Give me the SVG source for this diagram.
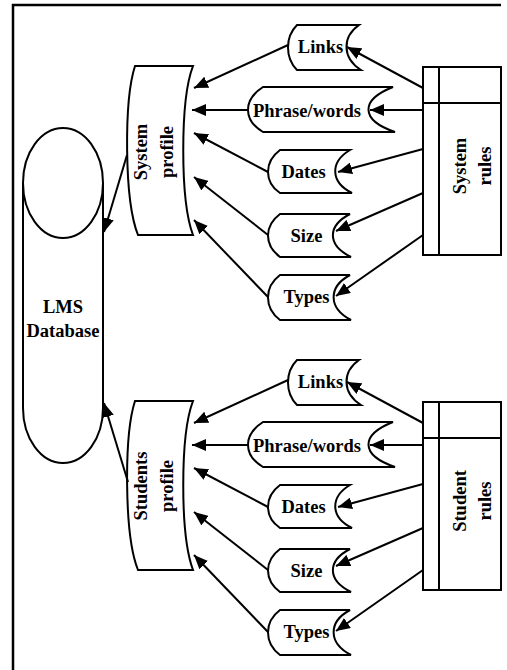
<svg xmlns="http://www.w3.org/2000/svg" width="507" height="670" viewBox="0 0 507 670">
<defs>
<style>
.s{fill:#fff;stroke:#000;stroke-width:2}
.t{font-family:"Liberation Serif","Times New Roman",serif;font-weight:bold;font-size:18.5px;fill:#000;text-anchor:middle}
.c{stroke:#000;stroke-width:2;fill:none;marker-end:url(#ah)}
</style>
<marker id="ah" markerUnits="userSpaceOnUse" markerWidth="15" markerHeight="12" refX="14" refY="6" orient="auto">
<path d="M0,0 L14,6 L0,12 Z" fill="#000"/>
</marker>
</defs>
<rect width="507" height="670" fill="#fff"/>
<path d="M13,670 V5 H501" fill="none" stroke="#000" stroke-width="2.5"/>

<g id="lms-database">
<path class="s" d="M23,183 V408 A40,55 0 0 0 103,408 V183"/>
<ellipse class="s" cx="63" cy="183" rx="40" ry="55"/>
<text class="t"><tspan x="63" y="313">LMS</tspan><tspan x="63" y="337">Database</tspan></text>
</g>

<g id="system-profile">
<path class="s" d="M135,66 H193 C180,100 180,200 193,235 H138 C124,200 124,100 135,66 Z"/>
<text class="t" transform="translate(156,152) rotate(-90)"><tspan x="0" y="-9">System</tspan><tspan x="0" y="17">profile</tspan></text>
</g>

<g id="sys-links">
<path class="s" d="M297,25 H359 C342,37 342,58 361,70 H297 C285,58 285,37 297,25 Z"/>
<text class="t" x="320.5" y="52.5">Links</text>
</g>
<g id="sys-phrase">
<path class="s" d="M263,87 H393 C360,100 360,120 395,132 H263 C243,120 243,100 263,87 Z"/>
<text class="t" x="307" y="116.5">Phrase/words</text>
</g>
<g id="sys-dates">
<path class="s" d="M280,150 H350 C330,162 330,182 352,193 H280 C264,182 264,162 280,150 Z"/>
<text class="t" x="303.5" y="178">Dates</text>
</g>
<g id="sys-size">
<path class="s" d="M280,214 H350 C327,226 327,245 351,257 H280 C264,245 264,226 280,214 Z"/>
<text class="t" x="306.5" y="242">Size</text>
</g>
<g id="sys-types">
<path class="s" d="M280,275 H350 C328,287 328,308 351,320 H280 C264,308 264,287 280,275 Z"/>
<text class="t" x="306.5" y="303">Types</text>
</g>

<g id="system-rules">
<rect class="s" x="423" y="67" width="78" height="188"/>
<path d="M439,67 V255 M423,103 H501" stroke="#000" stroke-width="2" fill="none"/>
<text class="t" transform="translate(475,166) rotate(-90)"><tspan x="0" y="-9">System</tspan><tspan x="0" y="16">rules</tspan></text>
</g>

<g id="students-profile">
<path class="s" d="M135,401 H193 C180,435 180,535 193,570 H138 C124,535 124,435 135,401 Z"/>
<text class="t" transform="translate(156,486) rotate(-90)"><tspan x="0" y="-9">Students</tspan><tspan x="0" y="17">profile</tspan></text>
</g>

<g id="stu-links" transform="translate(0,335)">
<path class="s" d="M297,25 H359 C342,37 342,58 361,70 H297 C285,58 285,37 297,25 Z"/>
<text class="t" x="320.5" y="52.5">Links</text>
</g>
<g id="stu-phrase" transform="translate(0,335)">
<path class="s" d="M263,87 H393 C360,100 360,120 395,132 H263 C243,120 243,100 263,87 Z"/>
<text class="t" x="307" y="116.5">Phrase/words</text>
</g>
<g id="stu-dates" transform="translate(0,335)">
<path class="s" d="M280,150 H350 C330,162 330,182 352,193 H280 C264,182 264,162 280,150 Z"/>
<text class="t" x="303.5" y="178">Dates</text>
</g>
<g id="stu-size" transform="translate(0,335)">
<path class="s" d="M280,214 H350 C327,226 327,245 351,257 H280 C264,245 264,226 280,214 Z"/>
<text class="t" x="306.5" y="242">Size</text>
</g>
<g id="stu-types" transform="translate(0,335)">
<path class="s" d="M280,275 H350 C328,287 328,308 351,320 H280 C264,308 264,287 280,275 Z"/>
<text class="t" x="306.5" y="303">Types</text>
</g>

<g id="student-rules">
<rect class="s" x="423" y="402" width="78" height="188"/>
<path d="M439,402 V590 M423,438 H501" stroke="#000" stroke-width="2" fill="none"/>
<text class="t" transform="translate(475,501) rotate(-90)"><tspan x="0" y="-9">Student</tspan><tspan x="0" y="16">rules</tspan></text>
</g>

<g id="connectors">
<path class="c" d="M127,155 L104,232"/>
<path class="c" d="M288,45 L194,88"/>
<path class="c" d="M248,110 L192,110"/>
<path class="c" d="M268,172 L194,133"/>
<path class="c" d="M268,235 L194,177"/>
<path class="c" d="M268,297 L194,220"/>
<path class="c" d="M423,88 L347,47"/>
<path class="c" d="M423,110 L370,110"/>
<path class="c" d="M423,149 L338,172"/>
<path class="c" d="M423,193 L336,231"/>
<path class="c" d="M423,235 L336,296"/>
<path class="c" d="M128,482 L104,403"/>
<path class="c" d="M288,380 L194,423"/>
<path class="c" d="M248,445 L192,445"/>
<path class="c" d="M268,507 L194,468"/>
<path class="c" d="M268,570 L194,512"/>
<path class="c" d="M268,632 L194,555"/>
<path class="c" d="M423,423 L347,382"/>
<path class="c" d="M423,445 L370,445"/>
<path class="c" d="M423,484 L338,507"/>
<path class="c" d="M423,528 L336,566"/>
<path class="c" d="M423,570 L336,631"/>
</g>
</svg>
